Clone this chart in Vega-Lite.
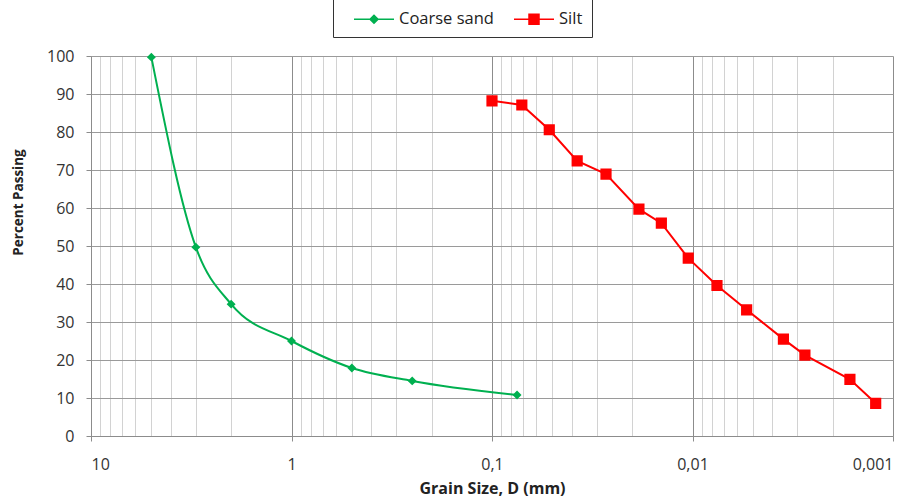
{
  "$schema": "https://vega.github.io/schema/vega-lite/v6.json",
  "autosize": "none",
  "width": 802,
  "height": 380,
  "padding": {"left": 91, "top": 56, "right": 24, "bottom": 62},
  "background": "white",
  "config": {
    "font": "Open Sans",
    "view": {"stroke": null},
    "axis": {"labelFont": "Open Sans", "titleFont": "Open Sans", "labelColor": "#333", "titleColor": "#222"}
  },
  "data": {
    "values": [
      {"series": "Coarse sand", "d": 5, "p": 99.7},
      {"series": "Coarse sand", "d": 3, "p": 49.7},
      {"series": "Coarse sand", "d": 2, "p": 34.7},
      {"series": "Coarse sand", "d": 1, "p": 25.0},
      {"series": "Coarse sand", "d": 0.5, "p": 17.9},
      {"series": "Coarse sand", "d": 0.25, "p": 14.5},
      {"series": "Coarse sand", "d": 0.075, "p": 10.8},
      {"series": "Silt", "d": 0.1, "p": 88.2},
      {"series": "Silt", "d": 0.071, "p": 87.1},
      {"series": "Silt", "d": 0.0518, "p": 80.6},
      {"series": "Silt", "d": 0.0376, "p": 72.4},
      {"series": "Silt", "d": 0.027, "p": 68.9},
      {"series": "Silt", "d": 0.0185, "p": 59.7},
      {"series": "Silt", "d": 0.0143, "p": 56.0},
      {"series": "Silt", "d": 0.0105, "p": 46.8},
      {"series": "Silt", "d": 0.00755, "p": 39.6},
      {"series": "Silt", "d": 0.00537, "p": 33.2},
      {"series": "Silt", "d": 0.00352, "p": 25.5},
      {"series": "Silt", "d": 0.00275, "p": 21.3},
      {"series": "Silt", "d": 0.00164, "p": 14.9},
      {"series": "Silt", "d": 0.00122, "p": 8.6}
    ]
  },
  "encoding": {
    "x": {
      "field": "d", "type": "quantitative",
      "scale": {"type": "log", "domain": [0.001, 10], "reverse": true, "nice": false},
      "axis": {
        "title": "Grain Size, D (mm)",
        "titleFontSize": 16, "titleFontWeight": "bold", "titlePadding": 8,
        "values": [0.001,0.002,0.003,0.004,0.005,0.006,0.007,0.008,0.009,0.01,0.02,0.03,0.04,0.05,0.06,0.07,0.08,0.09,0.1,0.2,0.3,0.4,0.5,0.6,0.7,0.8,0.9,1,2,3,4,5,6,7,8,9,10],
        "labelExpr": "abs(log(datum.value)/LN10 - round(log(datum.value)/LN10)) < 1e-6 ? (datum.value >= 1 ? format(datum.value, 'd') : replace(toString(datum.value), '.', ',')) : ''",
        "labelFontSize": 16, "labelPadding": 15, "labelOverlap": false,
        "grid": true,
        "gridColor": {"condition": {"test": "abs(log(datum.value)/LN10 - round(log(datum.value)/LN10)) < 1e-6", "value": "#8c8c8c"}, "value": "#d2d2d2"},
        "gridWidth": 1,
        "tickColor": {"condition": {"test": "abs(log(datum.value)/LN10 - round(log(datum.value)/LN10)) < 1e-6", "value": "#8c8c8c"}, "value": "transparent"},
        "tickSize": 5,
        "domainColor": "#8c8c8c"
      }
    },
    "y": {
      "field": "p", "type": "quantitative",
      "scale": {"domain": [0, 100], "nice": false},
      "axis": {
        "title": "Percent Passing",
        "titleFontSize": 13.5, "titleFontWeight": "bold",
        "titleX": -66, "titleY": 146,
        "values": [0,10,20,30,40,50,60,70,80,90,100],
        "labelFontSize": 16, "labelPadding": 12,
        "grid": true, "gridColor": "#9a9a9a", "gridWidth": 1,
        "tickColor": "#8c8c8c", "tickSize": 5, "domainColor": "#8c8c8c"
      }
    }
  },
  "layer": [
    {
      "transform": [{"filter": "datum.series === 'Coarse sand'"}],
      "mark": {"type": "line", "interpolate": "monotone", "strokeWidth": 2},
      "encoding": {"color": {"field": "series", "type": "nominal"}}
    },
    {
      "transform": [{"filter": "datum.series === 'Silt'"}],
      "mark": {"type": "line", "interpolate": "linear", "strokeWidth": 2},
      "encoding": {"color": {"field": "series", "type": "nominal"}}
    },
    {
      "mark": {"type": "point", "filled": true, "opacity": 1, "size": 500},
      "encoding": {
        "color": {
          "field": "series", "type": "nominal",
          "scale": {"domain": ["Coarse sand", "Silt"], "range": ["#00B050", "#FF0000"]},
          "legend": {
            "title": null, "orient": "none", "legendX": 242, "legendY": -57,
            "direction": "horizontal", "strokeColor": "#333", "padding": 9,
            "labelFontSize": 16.5, "labelFont": "Open Sans", "labelColor": "#222",
            "symbolSize": 400, "symbolOffset": 21, "columnPadding": 8, "labelOffset": 14,
            "encode": {"symbols": {"update": {"stroke": {"scale": "color", "field": "value"}, "strokeWidth": {"value": 2}}}}
          }
        },
        "shape": {
          "field": "series", "type": "nominal",
          "scale": {"domain": ["Coarse sand", "Silt"], "range": ["M-2,0H2M-0.4,0L0,-0.4L0.4,0L0,0.4Z", "M-2,0H2M-0.5,-0.5H0.5V0.5H-0.5Z"]}
        }
      }
    }
  ]
}
